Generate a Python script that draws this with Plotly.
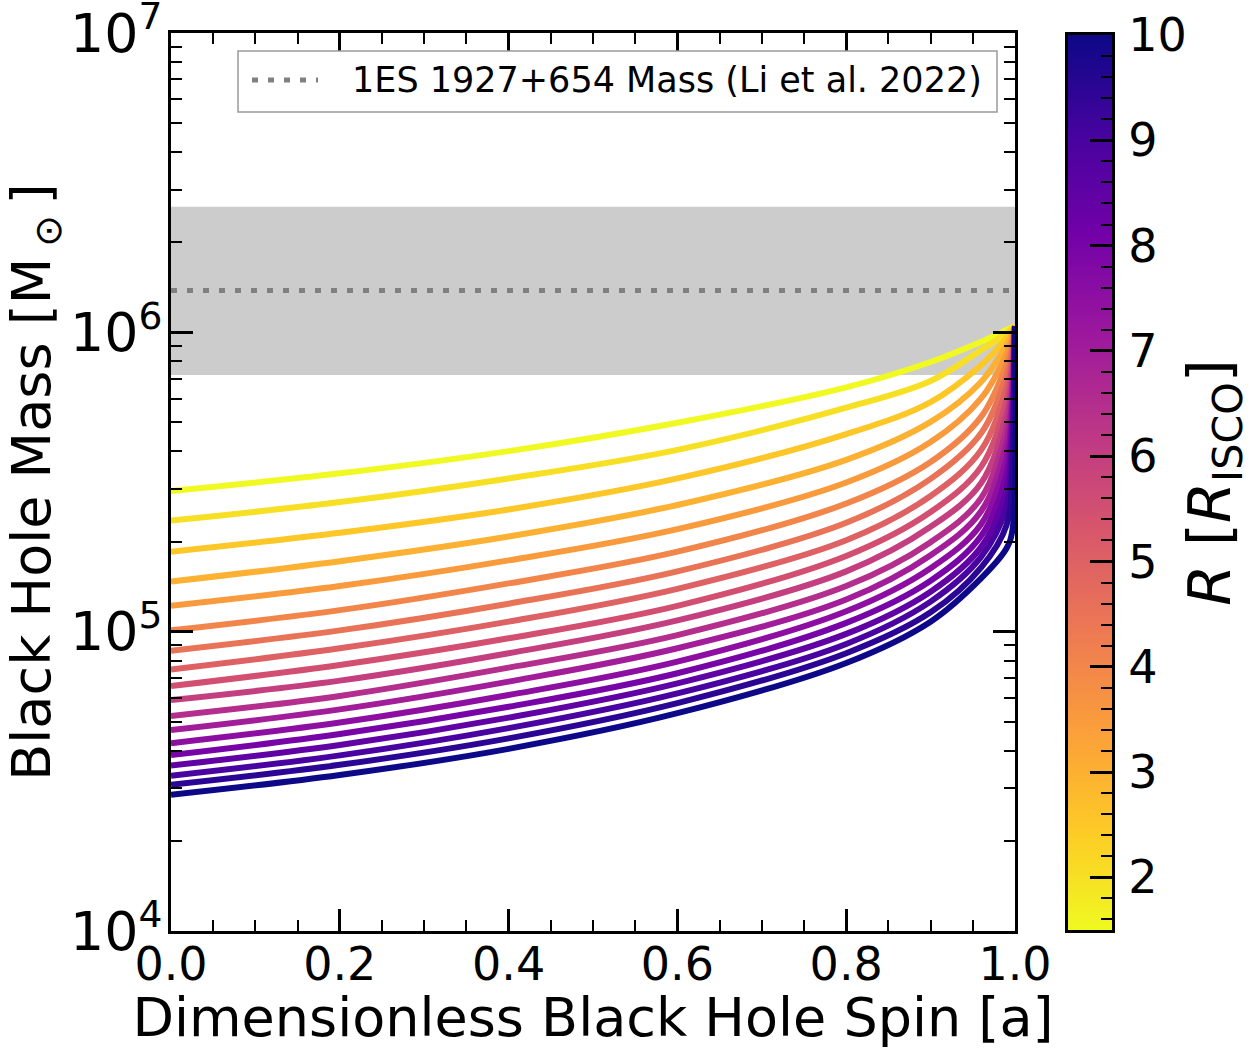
import plotly.graph_objects as go
from plotly.colors import sample_colorscale

# ---------------- data ----------------
spin = [0.0, 0.2, 0.4, 0.6, 0.8, 0.9, 0.96, 0.99, 0.997, 1.0]
radii = [1.5, 2.0, 2.5, 3.0, 3.5, 4.0, 4.5, 5.0, 5.5, 6.0, 6.5, 7.0, 7.5, 8.0, 8.5, 9.0, 9.5, 10.0]

mass_R1_5 = [2.95e5, 3.38e5, 4.01e5, 4.99e5, 6.55e5, 7.96e5, 9.30e5, 1.018e6, 1.042e6, 1.05e6]
mass_R2_0 = [2.35e5, 2.71e5, 3.25e5, 4.05e5, 5.60e5, 6.88e5, 8.73e5, 9.95e5, 1.034e6, 1.05e6]
mass_R2_5 = [1.85e5, 2.14e5, 2.56e5, 3.25e5, 4.57e5, 5.85e5, 7.78e5, 9.57e5, 1.018e6, 1.05e6]
mass_R3_0 = [1.47e5, 1.72e5, 2.08e5, 2.65e5, 3.75e5, 5.02e5, 6.84e5, 9.07e5, 9.95e5, 1.05e6]
mass_R3_5 = [1.22e5, 1.42e5, 1.73e5, 2.20e5, 3.15e5, 4.30e5, 6.03e5, 8.47e5, 9.65e5, 1.05e6]
mass_R4_0 = [1.01e5, 1.18e5, 1.45e5, 1.85e5, 2.68e5, 3.69e5, 5.23e5, 7.84e5, 9.28e5, 1.05e6]
mass_R4_5 = [8.64e4, 1.01e5, 1.24e5, 1.59e5, 2.31e5, 3.24e5, 4.61e5, 7.20e5, 8.86e5, 1.05e6]
mass_R5_0 = [7.48e4, 8.80e4, 1.08e5, 1.39e5, 2.02e5, 2.84e5, 4.05e5, 6.57e5, 8.40e5, 1.05e6]
mass_R5_5 = [6.58e4, 7.74e4, 9.50e4, 1.22e5, 1.79e5, 2.51e5, 3.56e5, 5.94e5, 7.90e5, 1.05e6]
mass_R6_0 = [5.91e4, 6.86e4, 8.47e4, 1.09e5, 1.59e5, 2.24e5, 3.14e5, 5.34e5, 7.37e5, 1.05e6]
mass_R6_5 = [5.23e4, 6.10e4, 7.58e4, 9.74e4, 1.42e5, 1.99e5, 2.80e5, 4.79e5, 6.82e5, 1.05e6]
mass_R7_0 = [4.69e4, 5.50e4, 6.81e4, 8.80e4, 1.28e5, 1.80e5, 2.53e5, 4.27e5, 6.27e5, 1.05e6]
mass_R7_5 = [4.24e4, 4.97e4, 6.14e4, 7.94e4, 1.17e5, 1.63e5, 2.29e5, 3.80e5, 5.72e5, 1.05e6]
mass_R8_0 = [3.87e4, 4.55e4, 5.61e4, 7.26e4, 1.07e5, 1.48e5, 2.09e5, 3.36e5, 5.17e5, 1.05e6]
mass_R8_5 = [3.57e4, 4.18e4, 5.16e4, 6.72e4, 9.83e4, 1.36e5, 1.92e5, 2.97e5, 4.65e5, 1.05e6]
mass_R9_0 = [3.30e4, 3.86e4, 4.76e4, 6.22e4, 9.10e4, 1.26e5, 1.78e5, 2.61e5, 4.14e5, 1.05e6]
mass_R9_5 = [3.08e4, 3.59e4, 4.40e4, 5.77e4, 8.47e4, 1.16e5, 1.64e5, 2.27e5, 3.66e5, 1.05e6]
mass_R10_0 = [2.85e4, 3.32e4, 4.06e4, 5.34e4, 7.86e4, 1.08e5, 1.51e5, 1.90e5, 2.19e5, 1.05e6]

mass_curves = [mass_R1_5, mass_R2_0, mass_R2_5, mass_R3_0, mass_R3_5, mass_R4_0,
               mass_R4_5, mass_R5_0, mass_R5_5, mass_R6_0, mass_R6_5, mass_R7_0,
               mass_R7_5, mass_R8_0, mass_R8_5, mass_R9_0, mass_R9_5, mass_R10_0]

li_mass = 1.38e6
li_mass_lo = 7.2e5
li_mass_hi = 2.63e6
legend_label = "1ES 1927+654 Mass (Li et al. 2022)"

r_min, r_max = 1.5, 10.0
cbar_ticks = [2, 3, 4, 5, 6, 7, 8, 9, 10]
x_ticks = [0.0, 0.2, 0.4, 0.6, 0.8, 1.0]

# ---------------- figure ----------------
FONT = "DejaVu Sans"
fig = go.Figure()

fig.add_trace(go.Scatter(
    x=[0, 1, 1, 0, 0], y=[li_mass_lo, li_mass_lo, li_mass_hi, li_mass_hi, li_mass_lo],
    mode="lines", fill="toself", fillcolor="#cccccc", line=dict(width=0),
    showlegend=False, hoverinfo="skip"))

DOT = "6px,10px"
fig.add_trace(go.Scatter(
    x=[0, 1], y=[li_mass, li_mass], mode="lines",
    line=dict(color="#808080", width=5, dash=DOT),
    name=legend_label, showlegend=False))

for R, m in zip(radii, mass_curves):
    t = (R - r_min) / (r_max - r_min)
    col = sample_colorscale("Plasma", [1 - t])[0]
    fig.add_trace(go.Scatter(
        x=spin, y=m, mode="lines",
        line=dict(color=col, width=6, shape="spline", smoothing=1.0),
        showlegend=False, hoverinfo="skip"))

# colorbar drawn as a heatmap on its own axes
n = 400
cb_vals = [r_min + (r_max - r_min) * i / (n - 1) for i in range(n)]
fig.add_trace(go.Heatmap(
    z=[[v] for v in cb_vals], x=[0], y=cb_vals,
    colorscale="Plasma", reversescale=True, zmin=r_min, zmax=r_max,
    showscale=False, xaxis="x2", yaxis="y2", hoverinfo="skip"))

W, H = 1252, 1049
ml, mr, mt, mb = 171, 140, 33, 118
pw = W - ml - mr
ph = H - mt - mb


def px(xpix):
    return (xpix - ml) / pw


def py(ypix):
    return (H - mb - ypix) / ph


main_x_end = px(1015)

axis_common = dict(showgrid=False, zeroline=False, showline=True, linecolor="black",
                   linewidth=3, ticks="inside", tickcolor="black", tickwidth=2.5,
                   ticklen=22, automargin=False, ticklabeloverflow="allow")

fig.update_layout(
    width=W, height=H,
    margin=dict(l=ml, r=mr, t=mt, b=mb, autoexpand=False),
    paper_bgcolor="white", plot_bgcolor="white",
    font=dict(family=FONT, size=46, color="black"),
    xaxis=dict(domain=[0, main_x_end], range=[0, 1], tickvals=x_ticks,
               tickformat=".1f", mirror="allticks", ticklabelstandoff=-9,
               minor=dict(dtick=0.05, ticks="inside", ticklen=11, tickwidth=2,
                          tickcolor="black", showgrid=False),
               tickfont=dict(size=46),
               title=dict(text="Dimensionless Black Hole Spin [a]",
                          font=dict(size=54), standoff=17),
               **axis_common),
    yaxis=dict(type="log", range=[3.9999, 7.0001], tickmode="linear", tick0=0, dtick=1,
               exponentformat="power", mirror="allticks", ticklabelstandoff=-3,
               minor=dict(dtick="D1", ticks="inside", ticklen=11, tickwidth=2,
                          tickcolor="black", showgrid=False),
               tickfont=dict(size=43),
               title=dict(text="Black Hole Mass [M\u2009<sub>\u2299</sub>\u2009]",
                          font=dict(size=54), standoff=15),
               **axis_common),
    xaxis2=dict(domain=[px(1068), 1.0], range=[-0.5, 0.5], anchor="y2",
                showticklabels=False, ticks="", showgrid=False, zeroline=False,
                showline=True, linecolor="black", linewidth=3, mirror=True,
                automargin=False),
    yaxis2=dict(domain=[py(930), py(35)], range=[r_min, r_max], anchor="x2",
                side="right", tickvals=cbar_ticks, mirror=True,
                minor=dict(dtick=0.2, tick0=0, ticks="inside", ticklen=11,
                           tickwidth=2, tickcolor="black", showgrid=False),
                tickfont=dict(size=46), ticklabelstandoff=4,
                title=dict(text="<i>R</i> [<i>R</i><sub>ISCO</sub>]",
                           font=dict(size=59), standoff=6),
                **axis_common),
    showlegend=False,
    shapes=[
        dict(type="rect", xref="paper", yref="paper",
             x0=px(238), x1=px(997), y0=py(112), y1=py(51),
             line=dict(color="#9a9a9a", width=1.5), fillcolor="white", layer="above"),
        dict(type="line", xref="paper", yref="paper",
             x0=px(252), x1=px(318), y0=py(80), y1=py(80),
             line=dict(color="#808080", width=5, dash=DOT), layer="above"),
    ],
    annotations=[
        dict(text=legend_label, xref="paper", yref="paper", x=px(350), y=py(80),
             xanchor="left", yanchor="middle", showarrow=False,
             font=dict(size=35, family=FONT, color="black")),
    ],
)

fig.write_html("out.html")
